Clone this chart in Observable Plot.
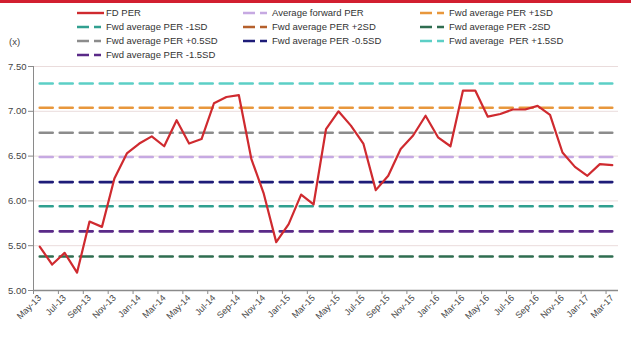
<!DOCTYPE html>
<html>
<head>
<meta charset="utf-8">
<script src="https://cdn.jsdelivr.net/npm/d3@7"></script>
<script src="https://cdn.jsdelivr.net/npm/@observablehq/plot@0.6"></script>
<style>
  body { margin: 0; background: #fff; }
  #chart {
    position: relative; width: 631px; height: 342px; overflow: hidden;
    font-family: "Liberation Sans Narrow", "Arial Narrow", "Liberation Sans", sans-serif;
  }
  #topbar { position: absolute; left: 0; top: 0; width: 631px; height: 3px; background: #d21f30; }
  #unit { position: absolute; left: 9px; top: 36px; font-size: 9.5px; color: #444; }
  .key { position: absolute; display: flex; align-items: center; font-size: 9.5px; color: #333; white-space: pre; line-height: 12px; }
  .key svg { margin-right: 2px; }
  #plot { position: absolute; left: 0; top: 0; }
</style>
</head>
<body>
<div id="chart">
  <div id="plot"></div>
  <div id="topbar"></div>
  <div id="unit">(x)</div>
</div>
<script>
// Monthly categories
const months = [
  "May-13","Jun-13","Jul-13","Aug-13","Sep-13","Oct-13","Nov-13","Dec-13",
  "Jan-14","Feb-14","Mar-14","Apr-14","May-14","Jun-14","Jul-14","Aug-14","Sep-14","Oct-14","Nov-14","Dec-14",
  "Jan-15","Feb-15","Mar-15","Apr-15","May-15","Jun-15","Jul-15","Aug-15","Sep-15","Oct-15","Nov-15","Dec-15",
  "Jan-16","Feb-16","Mar-16","Apr-16","May-16","Jun-16","Jul-16","Aug-16","Sep-16","Oct-16","Nov-16","Dec-16",
  "Jan-17","Feb-17","Mar-17"
];

// 12-month forward PER (x)
const fdPer = [
  5.49, 5.29, 5.42, 5.20, 5.77, 5.71, 6.25, 6.53,
  6.64, 6.72, 6.61, 6.90, 6.64, 6.69, 7.09, 7.16, 7.18, 6.47, 6.08, 5.54,
  5.74, 6.07, 5.96, 6.80, 7.00, 6.84, 6.64, 6.12, 6.28, 6.58, 6.73, 6.95,
  6.71, 6.61, 7.23, 7.23, 6.94, 6.97, 7.02, 7.02, 7.06, 6.96, 6.54, 6.38,
  6.28, 6.41, 6.40
];

// Average and standard-deviation bands, in legend order
const bandNames = [
  "Average forward PER", "Fwd average PER +1SD", "Fwd average PER -1SD",
  "Fwd average PER +2SD", "Fwd average PER -2SD", "Fwd average PER +0.5SD",
  "Fwd average PER -0.5SD", "Fwd average  PER +1.5SD", "Fwd average PER -1.5SD"
];
const bandLevels = [6.49, 7.04, 5.94, 7.59, 5.38, 6.76, 6.21, 7.31, 5.66];
const bandColors = [
  "#c6a9e2", "#e8973c", "#31a090", "#b5602c", "#2f6d50", "#8c8c8c",
  "#1e1c78", "#5ccfc6", "#5a2a88"
];

const seriesName = "FD PER";
const seriesColor = "#cf2a2f";

const yTicks = [5.0, 5.5, 6.0, 6.5, 7.0, 7.5];

// ---- plot ----
const fdRows = months.map((m, i) => ({ i, v: fdPer[i] }));
const bandRows = bandNames.flatMap((name, k) => months.map((m, i) => ({ i, v: bandLevels[k], name })));
const labelIdx = months.map((m, i) => i).filter(i => i % 2 === 0);
const boundaries = labelIdx.map(i => i - 0.5);

const font = '"Liberation Sans Narrow", "Arial Narrow", "Liberation Sans", sans-serif';

const chart = Plot.plot({
  width: 631,
  height: 342,
  marginLeft: 33,
  marginRight: 13,
  marginTop: 66,
  marginBottom: 52,
  style: { fontFamily: font, fontSize: "10px", color: "#444", background: "transparent", overflow: "visible" },
  x: { type: "linear", domain: [-0.5, months.length - 0.5], label: null },
  y: { domain: [5, 7.5], label: null },
  color: { domain: bandNames, range: bandColors },
  marks: [
    Plot.ruleY(yTicks.slice(1), { stroke: "#eadcdc", strokeWidth: 1 }),
    Plot.line(bandRows, {
      x: "i", y: "v", z: "name", stroke: "name",
      strokeWidth: 2.6, strokeDasharray: "13,7", clip: true
    }),
    Plot.line(fdRows, { x: "i", y: "v", stroke: seriesColor, strokeWidth: 2.2 }),
    Plot.ruleY([5], { stroke: "#8a8a8a", strokeWidth: 1.5 }),
    Plot.ruleX([-0.5], { stroke: "#8a8a8a", strokeWidth: 1 }),
    Plot.axisY({ ticks: yTicks, tickFormat: d3.format(".2f"), tickSize: 5, tickPadding: 2, fontSize: 9.5, stroke: "#8a8a8a", label: null }),
    Plot.axisX({ ticks: boundaries, tickFormat: () => "", tickSize: 4, stroke: "#8a8a8a", label: null }),
    Plot.axisX({
      ticks: labelIdx, tickFormat: i => months[i], tickRotate: -45,
      tickSize: 0, tickPadding: 6, fontSize: 9, label: null
    })
  ]
});
document.getElementById("plot").appendChild(chart);

// ---- legend ----
const legendItems = [
  { name: seriesName, color: seriesColor, solid: true },
  ...bandNames.map((n, k) => ({ name: n, color: bandColors[k], solid: false }))
];
const colLeft = [77, 243, 420];
const rowTop = [7, 21, 35, 49];
const chartDiv = document.getElementById("chart");
legendItems.forEach((item, n) => {
  const key = document.createElement("div");
  key.className = "key";
  key.style.left = colLeft[n % 3] + "px";
  key.style.top = rowTop[Math.floor(n / 3)] + "px";
  const svg = d3.create("svg").attr("width", 27).attr("height", 12);
  const line = svg.append("line").attr("x1", 0).attr("x2", 27).attr("y1", 6).attr("y2", 6)
    .attr("stroke", item.color).attr("stroke-width", 2.4);
  if (!item.solid) line.attr("stroke-dasharray", "12,5,7,10");
  key.appendChild(svg.node());
  const label = document.createElement("span");
  label.textContent = item.name;
  key.appendChild(label);
  chartDiv.appendChild(key);
});
</script>
</body>
</html>
